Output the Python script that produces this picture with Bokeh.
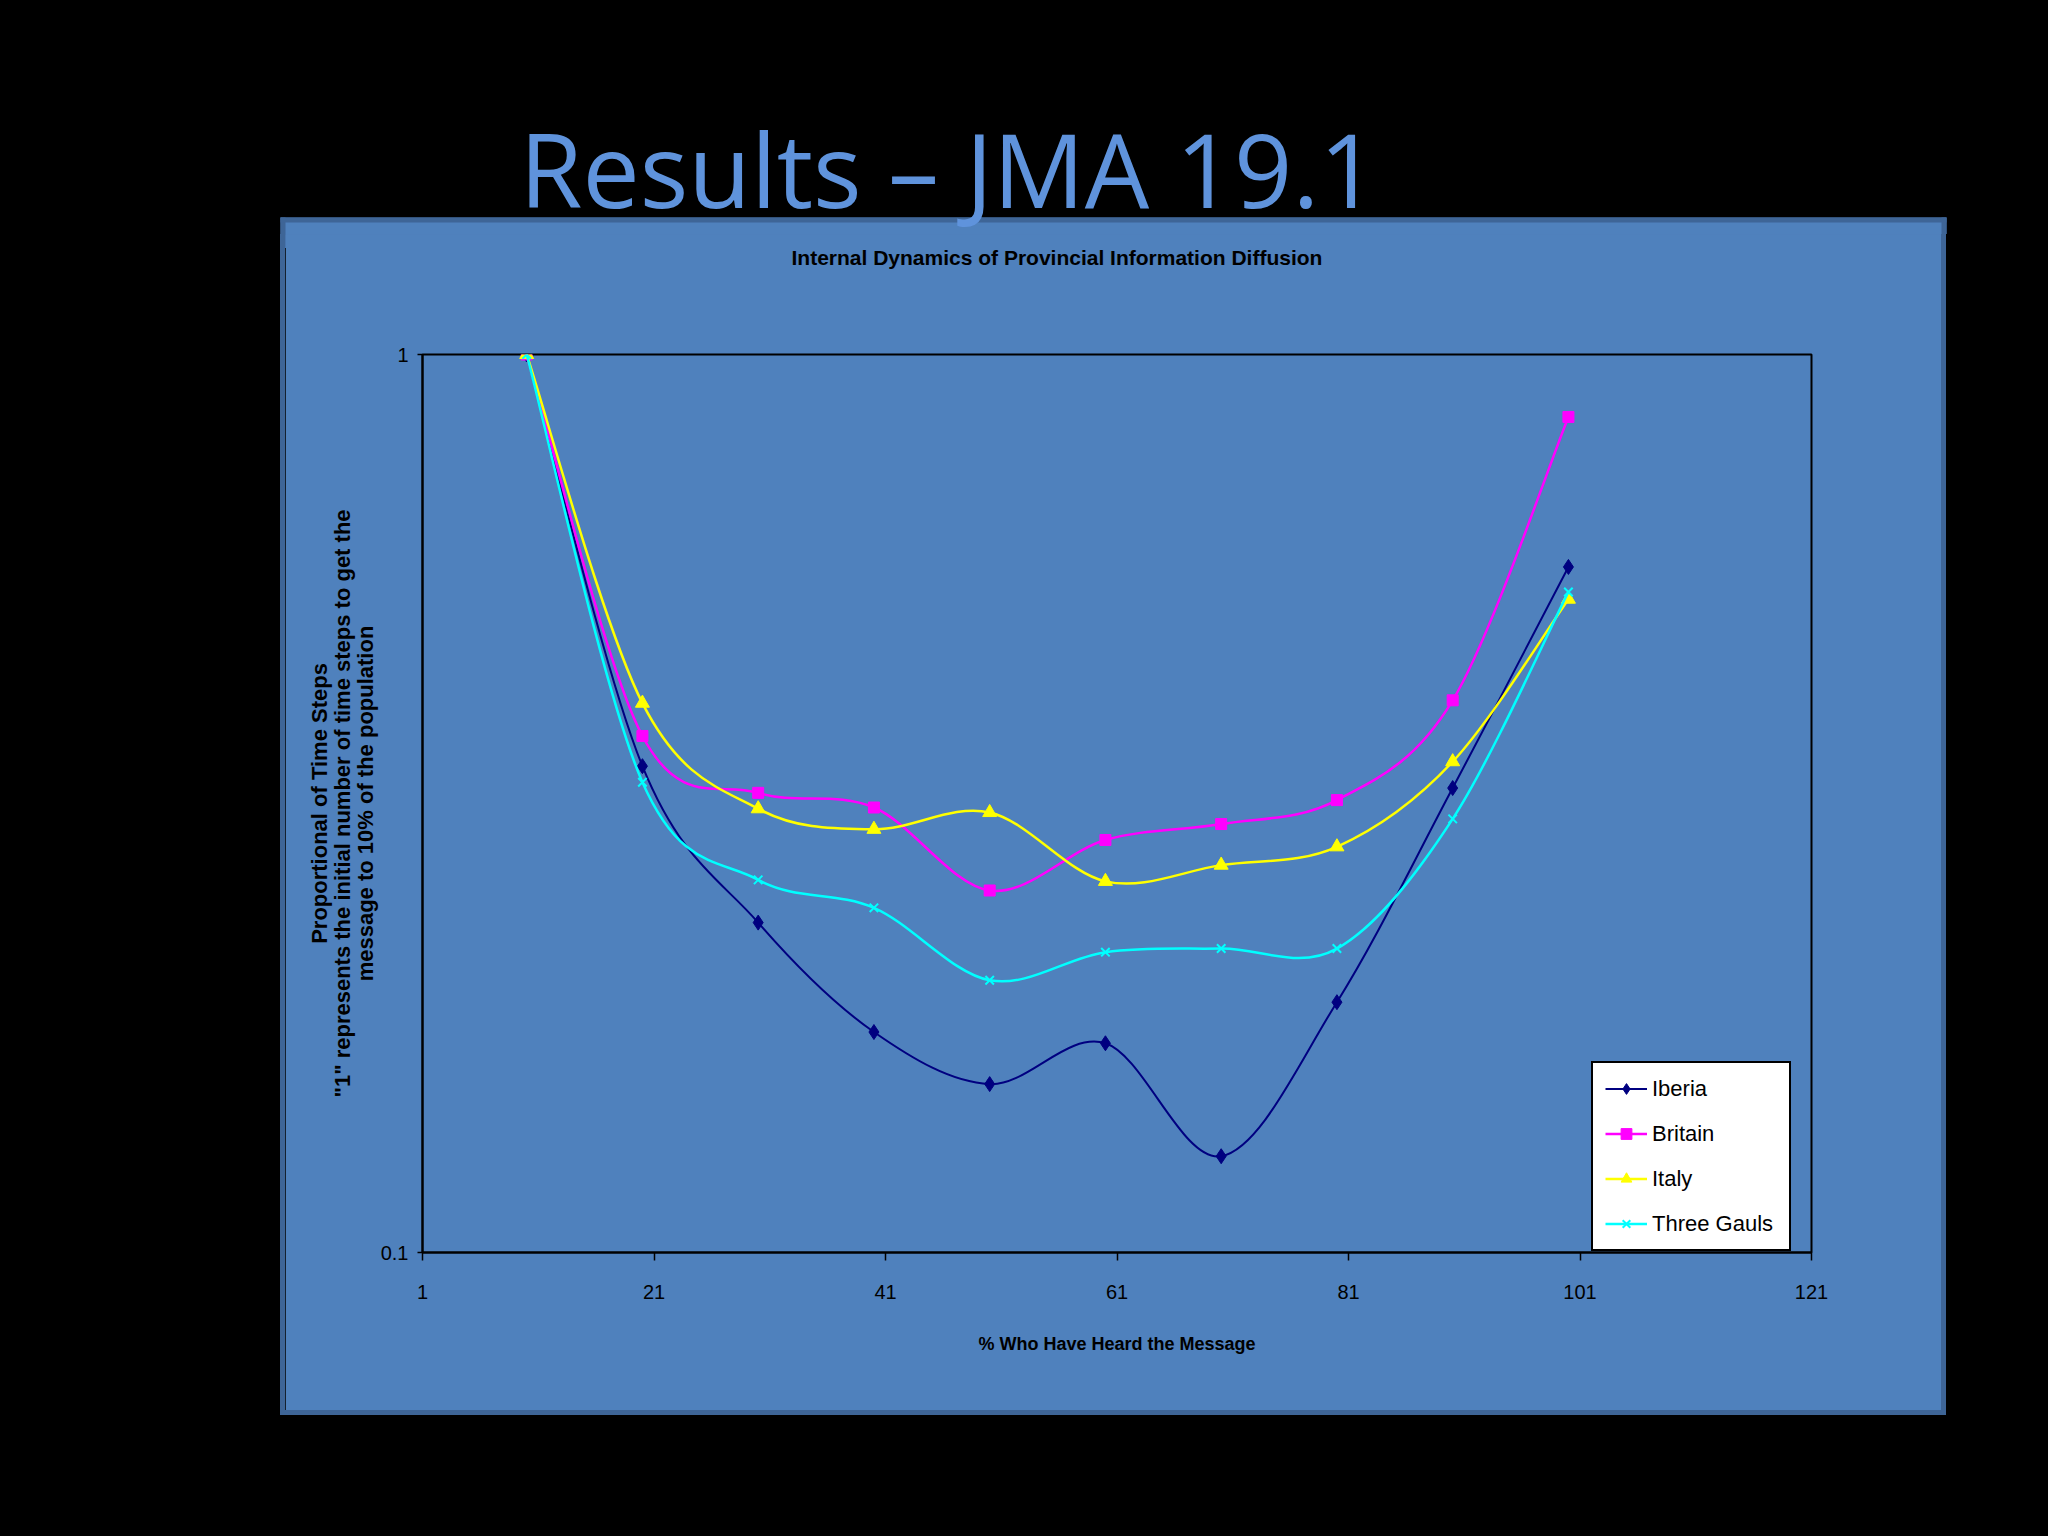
import numpy as np
from bokeh.plotting import figure
from bokeh.layouts import column, row
from bokeh.models import (Range1d, FixedTicker, Label, Legend, LegendItem, Title,
                          ColumnDataSource, Spacer)
from bokeh.embed import file_html
from bokeh.resources import INLINE

# ---------------- data ----------------
x_pct = [10, 20, 30, 40, 50, 60, 70, 80, 90, 100]
iberia = [1.0, 0.348, 0.233, 0.176, 0.154, 0.171, 0.128, 0.190, 0.329, 0.580]
britain = [1.0, 0.376, 0.325, 0.313, 0.253, 0.288, 0.300, 0.319, 0.412, 0.852]
italy = [1.0, 0.409, 0.312, 0.296, 0.309, 0.259, 0.270, 0.283, 0.352, 0.534]
three_gauls = [1.0, 0.334, 0.260, 0.242, 0.201, 0.216, 0.218, 0.218, 0.304, 0.544]
series_names = ["Iberia", "Britain", "Italy", "Three Gauls"]
x_ticks = [1, 21, 41, 61, 81, 101, 121]
y_ticks = [0.1, 1]
y_tick_labels = ["0.1", "1"]

slide_title = "Results \u2013 JMA 19.1"
chart_title = "Internal Dynamics of Provincial Information Diffusion"
x_label = "% Who Have Heard the Message"
y_label = ("Proportional of Time Steps\n"
           "\"1\" represents the initial number of time steps to get the\n"
           "message to 10% of the population")

# ---------------- layout constants (page px) ----------------
PAGE_W, PAGE_H = 2032, 1520
BLACK = "#000000"
PANEL = "#4F81BD"
EDGE = "#3E6597"
FONT = "Liberation Sans"

PX0, PY0, PX1, PY1 = 280, 217, 1946, 1415      # outer panel box
E = 5                                          # panel edge thickness
TOP_H = 234                                    # where the chart row starts
OVER = 14                                      # chart row overlaps the strip by this much
FIG_X, FIG_Y = PX0 + E, TOP_H
FIG_W, FIG_H = (PX1 - PX0) - 2 * E, (PY1 - E) - TOP_H
FL, FR, FT, FB = 422, 1811, 354, 1252          # plot frame

black_style = {"background-color": BLACK}
edge_style = {"background-color": EDGE}

# ---------------- slide title strip (also holds the top of the panel) ----------------
TH = TOP_H + OVER
top = figure(width=PAGE_W, height=TH, x_range=Range1d(0, PAGE_W),
             y_range=Range1d(TH, 0), x_axis_type=None, y_axis_type=None,
             min_border=0, toolbar_location=None, output_backend="svg")
top.border_fill_color = BLACK
top.background_fill_color = BLACK
top.outline_line_color = None
top.grid.visible = False
# panel top part: fill, then its left / right / top edges
top.quad(left=[PX0, PX0, PX1 - E, PX0], right=[PX1, PX0 + E, PX1, PX1],
         top=[PY0, PY0, PY0, PY0], bottom=[TH + 2, TH + 2, TH + 2, PY0 + E],
         fill_color=[PANEL, EDGE, EDGE, EDGE], line_color=None)
top.add_layout(Label(x=948, y=168, text=slide_title, text_font="Open Sans",
                     text_font_size="102px", text_color="#5F93DC",
                     text_align="center", text_baseline="alphabetic"))

# ---------------- chart ----------------
p = figure(width=FIG_W, height=FIG_H, output_backend="svg", toolbar_location=None,
           x_range=Range1d(1, 121), y_range=Range1d(0.1, 1), y_axis_type="log",
           min_border_left=FL - FIG_X, min_border_right=(FIG_X + FIG_W) - FR,
           min_border_top=FT - FIG_Y, min_border_bottom=(FIG_Y + FIG_H) - FB)
p.border_fill_color = PANEL
p.background_fill_color = PANEL
p.outline_line_color = BLACK
p.outline_line_width = 2
p.xgrid.visible = False
p.ygrid.visible = False

# titles stacked above the frame: spacer first (closest to frame), then chart title
p.add_layout(Title(text=" ", text_font_size="71px", standoff=0), "above")
p.add_layout(Title(text=chart_title, text_font=FONT, text_font_style="bold",
                   text_font_size="21px", text_color=BLACK, align="left",
                   offset=369, standoff=10), "above")

xa = p.xaxis[0]
xa.ticker = FixedTicker(ticks=x_ticks)
xa.major_tick_out = 8
xa.major_tick_in = 0
xa.minor_tick_line_color = None
xa.axis_line_width = 2
xa.axis_line_color = BLACK
xa.major_tick_line_color = BLACK
xa.major_tick_line_width = 1.5
xa.major_label_standoff = 24
xa.major_label_text_font = FONT
xa.major_label_text_font_size = "20px"
xa.major_label_text_color = BLACK
xa.axis_label = x_label
xa.axis_label_text_font = FONT
xa.axis_label_text_font_style = "bold"
xa.axis_label_text_font_size = "18px"
xa.axis_label_text_color = BLACK
xa.axis_label_standoff = 32

ya = p.yaxis[0]
ya.ticker = FixedTicker(ticks=y_ticks)
ya.major_label_overrides = {t: l for t, l in zip(y_ticks, y_tick_labels)}
ya.major_tick_out = 5
ya.major_tick_in = 0
ya.minor_tick_line_color = None
ya.axis_line_width = 2
ya.axis_line_color = BLACK
ya.major_tick_line_color = BLACK
ya.major_tick_line_width = 1.5
ya.major_label_standoff = 9
ya.major_label_text_font = FONT
ya.major_label_text_font_size = "20px"
ya.major_label_text_color = BLACK
ya.axis_label = y_label
ya.axis_label_text_font = FONT
ya.axis_label_text_font_style = "bold"
ya.axis_label_text_font_size = "22px"
ya.axis_label_text_line_height = 0.92
ya.axis_label_text_color = BLACK
ya.axis_label_standoff = 0


# smoothed lines: cubic Bezier segments through the data points
def bezier_source(xs, ys):
    X = np.asarray(xs, float)
    Y = np.log10(np.asarray(ys, float))
    n = len(X)
    d = {k: [] for k in ["x0", "y0", "x1", "y1", "cx0", "cy0", "cx1", "cy1"]}
    for i in range(n - 1):
        ip = max(i - 1, 0)
        inx = min(i + 2, n - 1)
        d["x0"].append(X[i]); d["y0"].append(10 ** Y[i])
        d["x1"].append(X[i + 1]); d["y1"].append(10 ** Y[i + 1])
        d["cx0"].append(X[i] + (X[i + 1] - X[ip]) / 6.0)
        d["cy0"].append(10 ** (Y[i] + (Y[i + 1] - Y[ip]) / 6.0))
        d["cx1"].append(X[i + 1] - (X[inx] - X[i]) / 6.0)
        d["cy1"].append(10 ** (Y[i + 1] - (Y[inx] - Y[i]) / 6.0))
    return ColumnDataSource(d)


styles = [
    (iberia, "#000080", "diamond", 15, 2.0),
    (britain, "#FF00FF", "square", 11, 2.5),
    (italy, "#FFFF00", "triangle", 14, 2.5),
    (three_gauls, "#00FFFF", "x", 12, 2.5),
]

items = []
for name, (vals, color, marker, size, lw) in zip(series_names, styles):
    src = bezier_source(x_pct, vals)
    bz = p.bezier(x0="x0", y0="y0", x1="x1", y1="y1", cx0="cx0", cy0="cy0",
                  cx1="cx1", cy1="cy1", source=src, line_color=color, line_width=lw)
    sc = p.scatter(x_pct, vals, marker=marker, size=size, fill_color=color,
                   line_color=color, line_width=2 if marker == "x" else 1)
    items.append(LegendItem(label=name, renderers=[bz, sc]))

legend = Legend(items=items, location=(1591 - FL, 1),
                glyph_width=42, glyph_height=27, label_height=27, label_width=125,
                spacing=18, padding=12, label_standoff=5, margin=0,
                border_line_color=BLACK, border_line_width=2, border_line_alpha=1.0,
                background_fill_color="#FFFFFF", background_fill_alpha=1.0,
                label_text_font=FONT, label_text_font_size="22px",
                label_text_color=BLACK)
p.add_layout(legend)

# ---------------- page assembly ----------------
panel_box = column(
    row(Spacer(width=E, height=FIG_H, styles=edge_style), p,
        Spacer(width=E, height=FIG_H, styles=edge_style)),
    Spacer(width=FIG_W + 2 * E, height=E, styles=edge_style),
)
chart_row = row(Spacer(width=PX0, height=PY1 - TOP_H, styles=black_style), panel_box,
                Spacer(width=PAGE_W - PX1, height=PY1 - TOP_H, styles=black_style),
                styles={"margin-top": f"-{OVER}px"})
page = column(
    top,
    chart_row,
    Spacer(width=PAGE_W, height=PAGE_H - PY1, styles=black_style),
    styles=black_style,
)

try:
    from bokeh.models import GlobalInlineStyleSheet
    page.stylesheets = [GlobalInlineStyleSheet(css="html, body { background: #000000; }")]
except Exception:
    pass

open("out.html", "w").write(file_html(page, INLINE))
